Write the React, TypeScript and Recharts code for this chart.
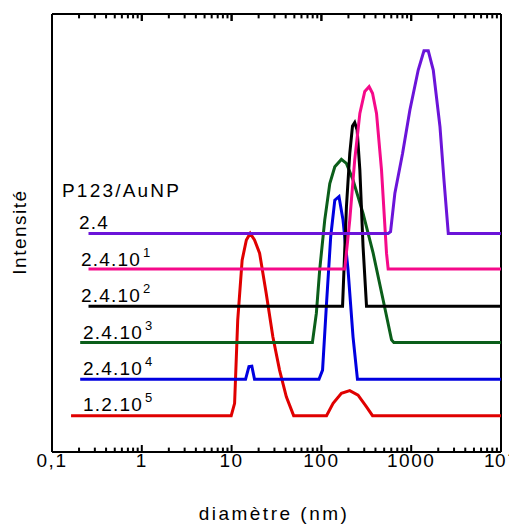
import { LineChart, Line, XAxis, YAxis, ReferenceLine } from "recharts";

// diameters (nm) and intensity (a.u., 0-100)
const d24 = [0.255, 554, 589, 658, 802, 967, 1197, 1387, 1549, 1761, 2091, 2317, 2588, 10000];
const i24 = [49.9, 49.9, 50.3, 59.1, 68.2, 78.1, 87.2, 91.6, 91.6, 87.2, 74.3, 62.1, 49.9, 49.9];

const d24e1 = [0.255, 182, 207, 235, 268, 304, 340, 371, 411, 467, 531, 554, 10000];
const i24e1 = [41.8, 41.8, 53.0, 66.7, 77.3, 82.3, 83.4, 81.9, 77.3, 64.4, 45.4, 41.8, 41.8];

const d24e2 = [0.255, 172, 190, 207, 222, 235, 250, 268, 291, 318, 10000];
const i24e2 = [33.3, 33.3, 56.0, 68.2, 74.4, 75.2, 73.5, 64.4, 46.9, 33.3, 33.3];

const d24e3 = [0.206, 79.4, 87.9, 95.7, 109, 124, 141, 167, 190, 225, 291, 377, 487, 604, 641, 10000];
const i24e3 = [25.0, 25.0, 31.7, 41.6, 53.0, 61.3, 65.1, 66.8, 65.9, 62.1, 54.5, 45.4, 34.7, 25.6, 25.0, 25.0];

const d24e4 = [0.206, 14.3, 15.6, 16.8, 18.0, 94, 103, 114, 127, 141, 157, 174, 198, 225, 252, 10000];
const i24e4 = [16.6, 16.6, 19.5, 19.6, 16.6, 16.6, 18.7, 33.9, 49.2, 57.5, 58.3, 53.0, 41.6, 26.3, 16.6, 16.6];

const d12e5 = [0.163, 9.9, 10.8, 11.7, 13.1, 14.6, 16.1, 18.0, 20.5, 24.3, 28.8, 34.2, 40.7, 49.1, 114, 135, 167, 207, 256, 318, 371, 10000];
const i12e5 = [8.3, 8.3, 11.1, 30.1, 43.8, 48.4, 49.9, 48.4, 45.4, 36.2, 26.3, 18.7, 12.6, 8.3, 8.3, 11.1, 13.4, 14.0, 13.0, 10.3, 8.3, 8.3];

const majorTicks = [0.1, 1, 10, 100, 1000, 10000];
const majorLabels = ["0,1", "1", "10", "100", "1000", "10"];
const minorTicks = [
  0.2, 0.3, 0.4, 0.5, 0.6, 0.7, 0.8, 0.9,
  2, 3, 4, 5, 6, 7, 8, 9,
  20, 30, 40, 50, 60, 70, 80, 90,
  200, 300, 400, 500, 600, 700, 800, 900,
  2000, 3000, 4000, 5000, 6000, 7000, 8000, 9000,
];

const zip = (ds: number[], is: number[]) => ds.map((d, k) => ({ d, v: is[k] }));

const series = [
  { name: "1.2.10^5", data: zip(d12e5, i12e5), color: "#e00000" },
  { name: "2.4.10^4", data: zip(d24e4, i24e4), color: "#0000e0" },
  { name: "2.4.10^3", data: zip(d24e3, i24e3), color: "#0b5e1a" },
  { name: "2.4.10^2", data: zip(d24e2, i24e2), color: "#000000" },
  { name: "2.4.10^1", data: zip(d24e1, i24e1), color: "#f50a8a" },
  { name: "2.4", data: zip(d24, i24), color: "#6b14d9" },
];

const FONT = "'Liberation Sans', Arial, sans-serif";
const MINOR_LEN = 1; // tick lengths in y units
const MAJOR_LEN = 1.6;

const majorIndex = (v: number) =>
  majorTicks.findIndex((m) => Math.abs(Math.log10(m) - Math.log10(v)) < 1e-6);

// y arrives 7px above the axis line (inward major tick, tickMargin 0)
function LabelTick(props: any) {
  const { x, y, payload } = props;
  const i = majorIndex(payload.value);
  if (i < 0) return <g />;
  if (i === 5)
    return (
      <text x={x - 17} y={y + 22} fontSize={19} letterSpacing={0.5} fontFamily={FONT} fill="#000">
        {majorLabels[i]}
        <tspan dx={2} dy={-9} fontSize={13}>4</tspan>
      </text>
    );
  return (
    <text x={x} y={y + 22} textAnchor="middle" fontSize={19} letterSpacing={1.5} fontFamily={FONT} fill="#000">
      {majorLabels[i]}
    </text>
  );
}

function EmptyTick() {
  return <g />;
}

const labels = [
  { x: 71, y: 220.5, base: "2.4", sup: "" },
  { x: 73, y: 258, base: "2.4.10", sup: "1" },
  { x: 73, y: 294, base: "2.4.10", sup: "2" },
  { x: 75, y: 331, base: "2.4.10", sup: "3" },
  { x: 75, y: 366.5, base: "2.4.10", sup: "4" },
  { x: 75, y: 402.5, base: "1.2.10", sup: "5" },
];

const topMarks = [
  ...majorTicks.map((v) => ({ v, len: MAJOR_LEN })),
  ...minorTicks.map((v) => ({ v, len: MINOR_LEN })),
];

export default function App() {
  return (
    <div style={{ position: "relative", width: 509, height: 516 }}>
      <LineChart width={509} height={508} margin={{ top: 5, right: 16, bottom: 0, left: 0 }}>
        <XAxis
          xAxisId="bottom"
          dataKey="d"
          type="number"
          scale="log"
          domain={[0.1, 10000]}
          allowDataOverflow
          ticks={majorTicks}
          interval={0}
          height={64}
          tickSize={-7}
          tickMargin={0}
          tickLine={{ stroke: "#000", strokeWidth: 2 }}
          tick={(p: any) => <LabelTick {...p} />}
          axisLine={{ stroke: "#000", strokeWidth: 2 }}
        />
        <XAxis
          xAxisId="top"
          orientation="top"
          dataKey="d"
          type="number"
          scale="log"
          domain={[0.1, 10000]}
          allowDataOverflow
          ticks={majorTicks}
          interval={0}
          height={1}
          tickSize={-7}
          tickLine={{ stroke: "#000", strokeWidth: 2 }}
          tick={<EmptyTick />}
          axisLine={{ stroke: "#000", strokeWidth: 2 }}
        />
        <YAxis
          yAxisId="left"
          type="number"
          domain={[0, 100]}
          width={44}
          tick={false}
          tickLine={false}
          axisLine={{ stroke: "#000", strokeWidth: 2 }}
        />
        <ReferenceLine xAxisId="bottom" yAxisId="left" x={10000} stroke="#000" strokeWidth={2} ifOverflow="visible" />
        <ReferenceLine xAxisId="bottom" yAxisId="left" y={100} stroke="#000" strokeWidth={2} ifOverflow="visible" />
        {minorTicks.map((v) => (
          <ReferenceLine
            key={"b" + v}
            xAxisId="bottom"
            yAxisId="left"
            segment={[{ x: v, y: 0 }, { x: v, y: MINOR_LEN }]}
            stroke="#000"
            strokeWidth={2}
          />
        ))}
        {topMarks.map((t) => (
          <ReferenceLine
            key={"t" + t.v}
            xAxisId="bottom"
            yAxisId="left"
            segment={[{ x: t.v, y: 100 - t.len }, { x: t.v, y: 100 }]}
            stroke="#000"
            strokeWidth={2}
            ifOverflow="visible"
          />
        ))}
        {series.map((s) => (
          <Line
            key={s.name}
            xAxisId="bottom"
            yAxisId="left"
            data={s.data}
            dataKey="v"
            type="linear"
            stroke={s.color}
            strokeWidth={3}
            dot={false}
            isAnimationActive={false}
          />
        ))}
      </LineChart>
      <svg
        width={509}
        height={516}
        style={{ position: "absolute", left: 0, top: 0, overflow: "visible", pointerEvents: "none" }}
        fontFamily={FONT}
      >
        <text x={54} y={189} fontSize={19} letterSpacing={2.2} fill="#000">P123/AuNP</text>
        {labels.map((l) => (
          <text key={l.base + l.sup} x={l.x} y={l.y} fontSize={19} letterSpacing={1.2} fill="#000">
            {l.base}
            {l.sup && <tspan dx={2} dy={-9} fontSize={13}>{l.sup}</tspan>}
          </text>
        ))}
        <text x={266} y={512} textAnchor="middle" fontSize={19} letterSpacing={2.5} fill="#000">
          diamètre (nm)
        </text>
        <text transform="translate(18,224) rotate(-90)" textAnchor="middle" fontSize={19} letterSpacing={1.5} fill="#000">
          Intensité
        </text>
      </svg>
    </div>
  );
}
